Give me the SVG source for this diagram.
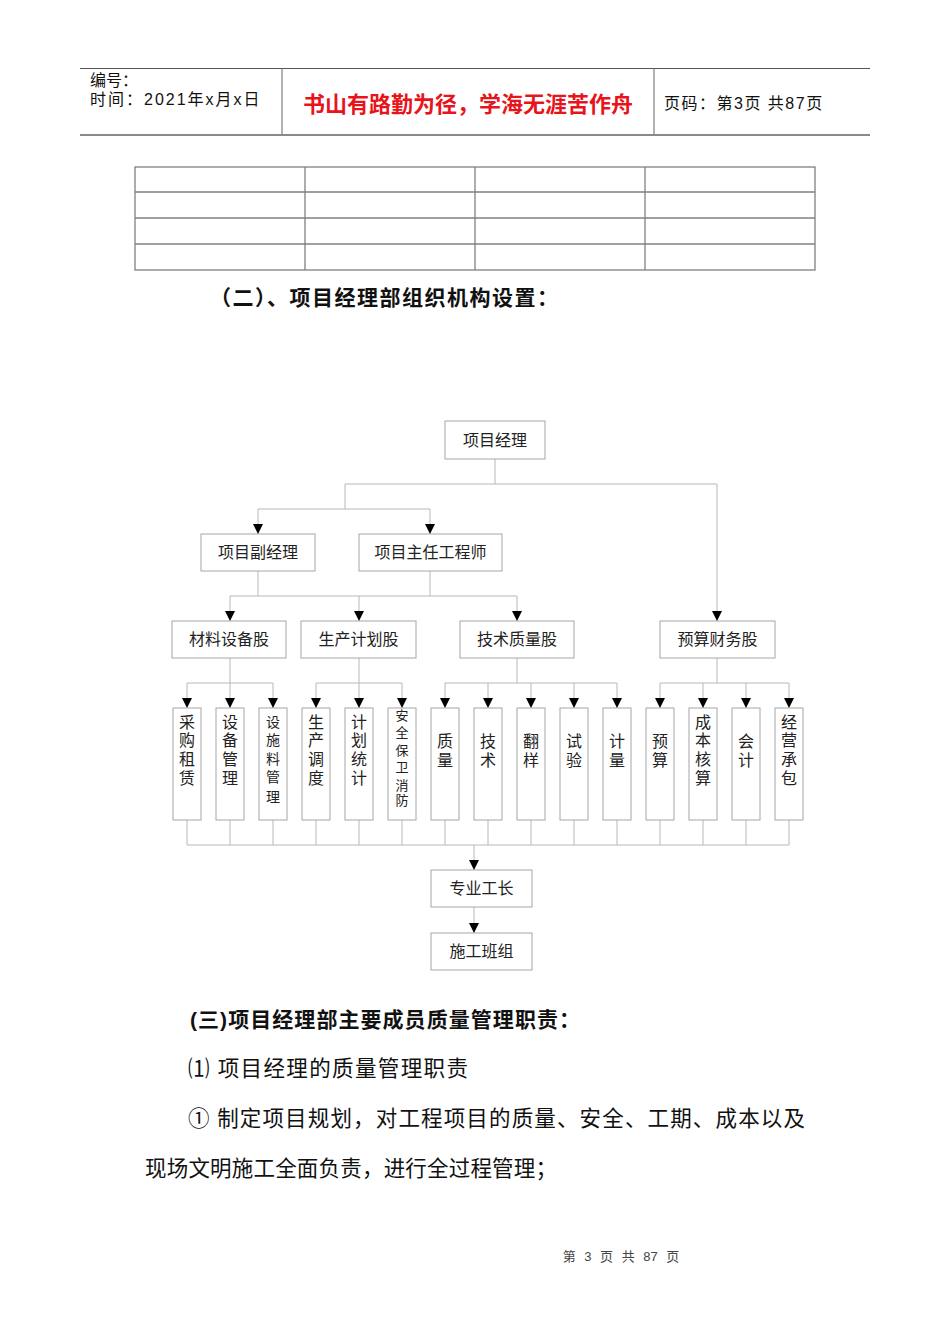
<svg xmlns="http://www.w3.org/2000/svg" width="950" height="1344" viewBox="0 0 950 1344">
<defs>
<style>
.bg{fill:#fff}
.hd{font-family:"Liberation Sans","Noto Sans CJK SC",sans-serif;font-size:16px;fill:#111}
.red{font-family:"Noto Sans CJK SC",sans-serif;font-size:22px;font-weight:bold;fill:#e8141c}
.h2{font-family:"Liberation Sans","Noto Sans CJK SC",sans-serif;font-size:21px;font-weight:bold;fill:#111}
.body{font-family:"Liberation Serif","Noto Sans CJK SC",serif;font-size:21.5px;fill:#111}
.box{fill:#fff;stroke:#a6a6a6;stroke-width:1}
.bt{font-family:"Liberation Serif","Noto Sans CJK SC",serif;font-size:16px;fill:#222;text-anchor:middle}
.lt{font-family:"Liberation Serif","Noto Sans CJK SC",serif;fill:#222;text-anchor:middle}
.cn{fill:none;stroke:#b8b8b8;stroke-width:1}
.tbl{fill:none;stroke:#808080;stroke-width:1.3}
.ft{font-family:"Liberation Sans","Noto Sans CJK SC",sans-serif;font-size:13px;fill:#444}
</style>
<marker id="arr" viewBox="0 0 10 10" refX="10" refY="5" markerWidth="10" markerHeight="11" markerUnits="userSpaceOnUse" orient="auto">
<path d="M0,0 L10,5 L0,10 z" fill="#000"/>
</marker>
</defs>
<rect class="bg" x="0" y="0" width="950" height="1344"/>

<g id="header">
<line x1="80" y1="68.5" x2="870" y2="68.5" stroke="#555" stroke-width="1"/>
<line x1="80" y1="135" x2="870" y2="135" stroke="#8a8a8a" stroke-width="2"/>
<line x1="282" y1="68" x2="282" y2="134" stroke="#666" stroke-width="1"/>
<line x1="654" y1="68" x2="654" y2="134" stroke="#666" stroke-width="1"/>
<text class="hd" x="90" y="86">编号：</text>
<text class="hd" x="90" y="105" letter-spacing="2">时间：2021年x月x日</text>
<text class="red" x="468" y="112" text-anchor="middle">书山有路勤为径，学海无涯苦作舟</text>
<text class="hd" x="664" y="109" font-size="15" letter-spacing="1.5">页码：第3页 共87页</text>
</g>

<g id="table">
<rect class="tbl" x="135" y="167" width="680" height="103"/>
<line class="tbl" x1="135" y1="192" x2="815" y2="192"/>
<line class="tbl" x1="135" y1="218" x2="815" y2="218"/>
<line class="tbl" x1="135" y1="244" x2="815" y2="244"/>
<line class="tbl" x1="305" y1="167" x2="305" y2="270"/>
<line class="tbl" x1="475" y1="167" x2="475" y2="270"/>
<line class="tbl" x1="645" y1="167" x2="645" y2="270"/>
</g>

<text class="h2" x="210" y="305" textLength="348" lengthAdjust="spacing">（二）、项目经理部组织机构设置：</text>

<g id="connectors">
<path class="cn" d="M495,459 V484 M345,484 H717 M345,484 V509 M258,509 H430"/>
<path class="cn" d="M258,509 V534" marker-end="url(#arr)"/>
<path class="cn" d="M430,509 V534" marker-end="url(#arr)"/>
<path class="cn" d="M717,484 V621" marker-end="url(#arr)"/>
<path class="cn" d="M258,571 V596 M430,571 V596 M230,596 H517"/>
<path class="cn" d="M230,596 V621" marker-end="url(#arr)"/>
<path class="cn" d="M359,596 V621" marker-end="url(#arr)"/>
<path class="cn" d="M517,596 V621" marker-end="url(#arr)"/>
<path class="cn" d="M230,658 V683 M359,658 V683 M517,658 V683 M717,658 V683 M187,683 H273 M316,683 H402 M445,683 H617 M660,683 H789"/>
<path class="cn" d="M187,683 V708" marker-end="url(#arr)"/>
<path class="cn" d="M230,683 V708" marker-end="url(#arr)"/>
<path class="cn" d="M273,683 V708" marker-end="url(#arr)"/>
<path class="cn" d="M316,683 V708" marker-end="url(#arr)"/>
<path class="cn" d="M359,683 V708" marker-end="url(#arr)"/>
<path class="cn" d="M402,683 V708" marker-end="url(#arr)"/>
<path class="cn" d="M445,683 V708" marker-end="url(#arr)"/>
<path class="cn" d="M488,683 V708" marker-end="url(#arr)"/>
<path class="cn" d="M531,683 V708" marker-end="url(#arr)"/>
<path class="cn" d="M574,683 V708" marker-end="url(#arr)"/>
<path class="cn" d="M617,683 V708" marker-end="url(#arr)"/>
<path class="cn" d="M660,683 V708" marker-end="url(#arr)"/>
<path class="cn" d="M703,683 V708" marker-end="url(#arr)"/>
<path class="cn" d="M746,683 V708" marker-end="url(#arr)"/>
<path class="cn" d="M789,683 V708" marker-end="url(#arr)"/>
<path class="cn" d="M187,820 V845 M230,820 V845 M273,820 V845 M316,820 V845 M359,820 V845 M402,820 V845 M445,820 V845 M488,820 V845 M531,820 V845 M574,820 V845 M617,820 V845 M660,820 V845 M703,820 V845 M746,820 V845 M789,820 V845 M187,845 H789"/>
<path class="cn" d="M474,845 V870" marker-end="url(#arr)"/>
<path class="cn" d="M474,907 V933" marker-end="url(#arr)"/>
</g>

<g id="n-pm"><rect class="box" x="445" y="421" width="100" height="38"/><text class="bt" x="495" y="446">项目经理</text></g>
<g id="n-dpm"><rect class="box" x="201" y="534" width="114" height="37"/><text class="bt" x="258" y="558">项目副经理</text></g>
<g id="n-ce"><rect class="box" x="359" y="534" width="143" height="37"/><text class="bt" x="430.5" y="558">项目主任工程师</text></g>
<g id="n-cl"><rect class="box" x="172" y="621" width="114" height="37"/><text class="bt" x="229" y="645">材料设备股</text></g>
<g id="n-sc"><rect class="box" x="301" y="621" width="115" height="37"/><text class="bt" x="358.5" y="645">生产计划股</text></g>
<g id="n-js"><rect class="box" x="460" y="621" width="114" height="37"/><text class="bt" x="517" y="645">技术质量股</text></g>
<g id="n-ys"><rect class="box" x="660" y="621" width="115" height="37"/><text class="bt" x="717.5" y="645">预算财务股</text></g>

<g id="l0"><rect class="box" x="173" y="708" width="28" height="112"/><text class="lt" font-size="16"><tspan x="187" y="728">采</tspan><tspan x="187" y="746">购</tspan><tspan x="187" y="765">租</tspan><tspan x="187" y="784">赁</tspan></text></g>
<g id="l1"><rect class="box" x="216" y="708" width="28" height="112"/><text class="lt" font-size="16"><tspan x="230" y="728">设</tspan><tspan x="230" y="746">备</tspan><tspan x="230" y="765">管</tspan><tspan x="230" y="784">理</tspan></text></g>
<g id="l2"><rect class="box" x="259" y="708" width="28" height="112"/><text class="lt" font-size="14"><tspan x="273" y="727">设</tspan><tspan x="273" y="745">施</tspan><tspan x="273" y="764">料</tspan><tspan x="273" y="782">管</tspan><tspan x="273" y="802">理</tspan></text></g>
<g id="l3"><rect class="box" x="302" y="708" width="28" height="112"/><text class="lt" font-size="16"><tspan x="316" y="728">生</tspan><tspan x="316" y="746">产</tspan><tspan x="316" y="765">调</tspan><tspan x="316" y="784">度</tspan></text></g>
<g id="l4"><rect class="box" x="345" y="708" width="28" height="112"/><text class="lt" font-size="16"><tspan x="359" y="728">计</tspan><tspan x="359" y="746">划</tspan><tspan x="359" y="765">统</tspan><tspan x="359" y="784">计</tspan></text></g>
<g id="l5"><rect class="box" x="388" y="708" width="28" height="112"/><text class="lt" font-size="13"><tspan x="402" y="720">安</tspan><tspan x="402" y="737">全</tspan><tspan x="402" y="755">保</tspan><tspan x="402" y="772">卫</tspan><tspan x="402" y="790">消</tspan><tspan x="402" y="805">防</tspan></text></g>
<g id="l6"><rect class="box" x="431" y="708" width="28" height="112"/><text class="lt" font-size="16"><tspan x="445" y="747">质</tspan><tspan x="445" y="766">量</tspan></text></g>
<g id="l7"><rect class="box" x="474" y="708" width="28" height="112"/><text class="lt" font-size="16"><tspan x="488" y="747">技</tspan><tspan x="488" y="766">术</tspan></text></g>
<g id="l8"><rect class="box" x="517" y="708" width="28" height="112"/><text class="lt" font-size="16"><tspan x="531" y="747">翻</tspan><tspan x="531" y="766">样</tspan></text></g>
<g id="l9"><rect class="box" x="560" y="708" width="28" height="112"/><text class="lt" font-size="16"><tspan x="574" y="747">试</tspan><tspan x="574" y="766">验</tspan></text></g>
<g id="l10"><rect class="box" x="603" y="708" width="28" height="112"/><text class="lt" font-size="16"><tspan x="617" y="747">计</tspan><tspan x="617" y="766">量</tspan></text></g>
<g id="l11"><rect class="box" x="646" y="708" width="28" height="112"/><text class="lt" font-size="16"><tspan x="660" y="747">预</tspan><tspan x="660" y="766">算</tspan></text></g>
<g id="l12"><rect class="box" x="689" y="708" width="28" height="112"/><text class="lt" font-size="16"><tspan x="703" y="728">成</tspan><tspan x="703" y="746">本</tspan><tspan x="703" y="765">核</tspan><tspan x="703" y="784">算</tspan></text></g>
<g id="l13"><rect class="box" x="732" y="708" width="28" height="112"/><text class="lt" font-size="16"><tspan x="746" y="747">会</tspan><tspan x="746" y="766">计</tspan></text></g>
<g id="l14"><rect class="box" x="775" y="708" width="28" height="112"/><text class="lt" font-size="16"><tspan x="789" y="728">经</tspan><tspan x="789" y="746">营</tspan><tspan x="789" y="765">承</tspan><tspan x="789" y="784">包</tspan></text></g>

<g id="n-zy"><rect class="box" x="431" y="870" width="101" height="37"/><text class="bt" x="481.5" y="894">专业工长</text></g>
<g id="n-sg"><rect class="box" x="431" y="933" width="101" height="37"/><text class="bt" x="481.5" y="957">施工班组</text></g>

<text class="h2" x="190" y="1027" textLength="390" lengthAdjust="spacing">(三)项目经理部主要成员质量管理职责：</text>
<text class="body" x="188" y="1076" textLength="280" lengthAdjust="spacing">⑴ 项目经理的质量管理职责</text>
<text class="body" x="188" y="1126" textLength="617" lengthAdjust="spacing">① 制定项目规划，对工程项目的质量、安全、工期、成本以及</text>
<text class="body" x="145" y="1176" textLength="412" lengthAdjust="spacing">现场文明施工全面负责，进行全过程管理；</text>

<text class="ft" x="621" y="1261" text-anchor="middle" word-spacing="5">第 3 页 共 87 页</text>
</svg>
